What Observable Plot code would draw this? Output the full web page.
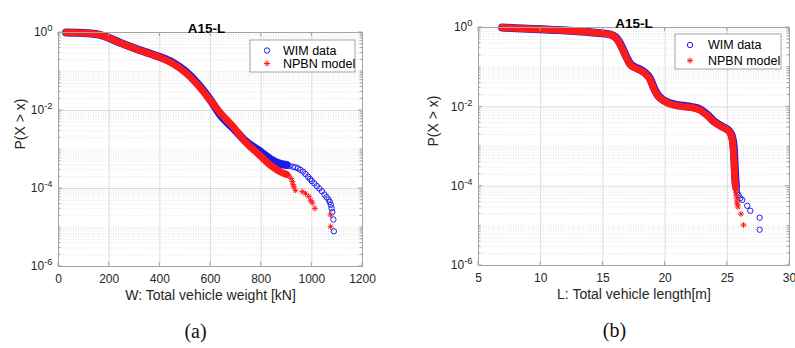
<!DOCTYPE html>
<html><head><meta charset="utf-8">
<script src="https://cdn.jsdelivr.net/npm/d3@7"></script>
<script src="https://cdn.jsdelivr.net/npm/@observablehq/plot@0.6"></script>
<style>
body{margin:0;background:#fff;}
#wrap{position:relative;width:795px;height:348px;overflow:hidden;}
#pa{position:absolute;left:0;top:0;}
#pb{position:absolute;left:400px;top:0;}
</style></head><body><div id="wrap"><div id="pa"></div><div id="pb"></div></div>
<script>
// ---------- shared ----------
const chartTitle = "A15-L";
const seriesNames = ["WIM data", "NPBN model"];
const yLabel = "P(X > x)";
const yTickValues = [1, 1e-2, 1e-4, 1e-6];
const yTickLabels = ["10^0", "10^-2", "10^-4", "10^-6"];

// ---------- panel (a): total vehicle weight ----------
const aXLabel = "W: Total vehicle weight [kN]";
const aCaption = "(a)";
const aXTicks = [0, 200, 400, 600, 800, 1000, 1200];
// WIM data (dense part + sparse tail)
const aWimBandW = [30, 70, 120, 160, 200, 250, 300, 350, 400, 450, 500, 550, 600, 640, 690, 740, 790, 840, 880, 900];
const aWimBandP = [1.0, 0.99, 0.955, 0.885, 0.725, 0.525, 0.395, 0.305, 0.235, 0.17, 0.102, 0.048, 0.0185, 0.0075, 0.0035, 0.0016, 0.00095, 0.00055, 0.00042, 0.0004];
const aWimTailW = [912, 925, 935, 945, 955, 965, 975, 985, 993, 1000, 1010, 1020, 1030, 1040, 1050, 1058, 1066, 1071, 1075, 1078, 1081, 1085, 1087];
const aWimTailP = [3.8e-4, 3.6e-4, 3.5e-4, 3.3e-4, 3.0e-4, 2.7e-4, 2.35e-4, 2.0e-4, 1.75e-4, 1.55e-4, 1.35e-4, 1.15e-4, 1.0e-4, 8.5e-5, 7e-5, 6e-5, 5.2e-5, 4.5e-5, 3.8e-5, 3.1e-5, 2.5e-5, 1.6e-5, 8e-6];
// NPBN model
const aNpbnBandW = [30, 70, 120, 160, 200, 250, 300, 350, 400, 450, 500, 550, 600, 640, 690, 740, 790, 840, 880, 900];
const aNpbnBandP = [1.0, 0.99, 0.95, 0.88, 0.72, 0.52, 0.39, 0.30, 0.23, 0.16, 0.095, 0.045, 0.018, 0.0085, 0.0038, 0.0015, 0.00075, 0.00038, 0.00026, 0.00023];
const aNpbnTailW = [910, 918, 923, 926, 929, 935, 962, 975, 988, 995, 1002, 1012, 1074, 1074];
const aNpbnTailP = [2.1e-4, 1.8e-4, 1.5e-4, 1.25e-4, 1.1e-4, 9e-5, 8.3e-5, 7.4e-5, 6.3e-5, 5e-5, 4.3e-5, 3.1e-5, 2.1e-5, 1.05e-5];

// ---------- panel (b): total vehicle length ----------
const bXLabel = "L: Total vehicle length[m]";
const bCaption = "(b)";
const bXTicks = [5, 10, 15, 20, 25, 30];
const bWimBandL = [6.9, 8, 9, 10, 11, 12, 13, 14, 15, 15.6, 16.0, 16.3, 16.6, 16.9, 17.2, 17.6, 18.0, 18.4, 18.8, 19.1, 19.4, 19.7, 20.2, 20.7, 21.5, 22.1, 22.8, 23.4, 23.9, 24.5, 25.0, 25.3, 25.5, 25.6, 25.65, 25.7];
const bWimBandP = [1.0, 0.96, 0.93, 0.9, 0.87, 0.84, 0.8, 0.76, 0.71, 0.665, 0.575, 0.44, 0.285, 0.178, 0.12, 0.099, 0.087, 0.072, 0.051, 0.03, 0.02, 0.016, 0.013, 0.0116, 0.0106, 0.01, 0.0087, 0.0063, 0.0044, 0.0033, 0.0027, 0.0021, 0.0011, 0.0003, 0.00015, 0.0001];
const bWimTailL = [25.72, 25.75, 25.8, 25.9, 26.05, 26.2, 26.6, 26.85, 27.6, 27.6];
const bWimTailP = [9e-5, 8e-5, 7e-5, 6e-5, 5e-5, 4.5e-5, 3.2e-5, 2.4e-5, 1.6e-5, 8e-6];
const bNpbnBandL = [6.9, 8, 9, 10, 11, 12, 13, 14, 15, 15.6, 16.0, 16.3, 16.6, 16.9, 17.2, 17.6, 18.0, 18.4, 18.8, 19.1, 19.4, 19.7, 20.2, 20.7, 21.5, 22.1, 22.8, 23.4, 23.9, 24.5, 25.0, 25.3, 25.45, 25.55, 25.6, 25.68];
const bNpbnBandP = [1.0, 0.96, 0.93, 0.9, 0.87, 0.84, 0.8, 0.76, 0.71, 0.66, 0.56, 0.42, 0.27, 0.17, 0.115, 0.095, 0.083, 0.068, 0.048, 0.028, 0.019, 0.0155, 0.0125, 0.011, 0.0101, 0.0096, 0.0083, 0.006, 0.0042, 0.0032, 0.0026, 0.002, 0.0011, 0.0004, 0.00017, 0.00009];
const bNpbnTailL = [25.7, 25.72, 25.75, 25.78, 25.82, 25.85, 26.1, 26.3];
const bNpbnTailP = [7e-5, 6e-5, 5e-5, 4e-5, 3.5e-5, 3e-5, 2e-5, 1.05e-5];

// ---------- helpers ----------
const rows = (xs, ps) => xs.map((x, i) => ({x, p: ps[i]}));
const matlabStar = {
  draw(ctx, size) {
    const r = Math.sqrt(size / Math.PI), d = r * Math.SQRT1_2;
    ctx.moveTo(-r, 0); ctx.lineTo(r, 0);
    ctx.moveTo(0, -r); ctx.lineTo(0, r);
    ctx.moveTo(-d, -d); ctx.lineTo(d, d);
    ctx.moveTo(-d, d); ctx.lineTo(d, -d);
  }
};
const minorY = [];
for (let e = -6; e <= -1; e++) for (let k = 1; k <= 9; k++) {
  const v = k * Math.pow(10, e);
  if (k === 1 && e % 2 === 0) continue;
  minorY.push(v);
}
const BOX = "#a3a3a3", GRID = "#dcdcdc", MINOR = "#e3e3e3", TXT = "#262626";
const SANS = "Liberation Sans, Arial, Helvetica, sans-serif";

function panel(cfg) {
  const svg = Plot.plot({
    width: cfg.width, height: 348,
    marginLeft: cfg.ml, marginRight: cfg.mr, marginTop: cfg.mt, marginBottom: cfg.mb,
    style: {fontFamily: SANS, fontSize: "12px", color: TXT, background: "transparent", overflow: "visible"},
    x: {domain: cfg.xDomain},
    y: {type: "log", domain: [1e-6, 1]},
    marks: [
      Plot.ruleY(minorY, {stroke: MINOR, strokeDasharray: "1,1.5"}),
      Plot.ruleX(cfg.xTicks, {stroke: GRID}),
      Plot.ruleY(yTickValues, {stroke: GRID}),
      Plot.line(cfg.wimBand, {x: "x", y: "p", stroke: "#1a1ae6", strokeWidth: 8, curve: "monotone-x", strokeLinecap: "round", strokeLinejoin: "round"}),
      Plot.dot(cfg.wimTail, {x: "x", y: "p", r: 2.7, stroke: "#2020f0", strokeWidth: 1, fill: "none"}),
      Plot.line(cfg.npbnBand, {x: "x", y: "p", stroke: "#ff1a1a", strokeWidth: 7, curve: "monotone-x", strokeLinecap: "round", strokeLinejoin: "round"}),
      Plot.dot(cfg.npbnTail, {x: "x", y: "p", r: 3, symbol: matlabStar, stroke: "#ff1a1a", strokeWidth: 1, fill: "none"}),
      Plot.frame({stroke: BOX}),
      Plot.axisX(cfg.xTicks, {tickSize: 0, tickPadding: 8, label: null, fontSize: 12, tickFormat: d => String(d)}),
      Plot.axisY(yTickValues, {tickSize: 0, tickPadding: 6, label: null, fontSize: 12,
        tickFormat: v => yTickLabels[yTickValues.indexOf(v)]}),
      Plot.text([chartTitle], {text: d => d, frameAnchor: "top", dy: cfg.titleDy, dx: cfg.titleDx, fontWeight: "bold", fontSize: 13.5, fill: "#000"}),
      Plot.text([cfg.xLabel], {text: d => d, frameAnchor: "bottom", dy: 33, fontSize: 14, fill: TXT}),
      Plot.text([yLabel], {text: d => d, frameAnchor: "left", rotate: -90, dx: cfg.yLabelDx, fontSize: 14, fill: TXT}),
      Plot.text([cfg.caption], {text: d => d, frameAnchor: "bottom", dy: 71, dx: cfg.capDx, fontSize: 20, fontFamily: "Liberation Serif, Times New Roman, serif", fill: "#111"})
    ]
  });
  const s = d3.select(svg);
  // superscript exponents on the log tick labels
  s.selectAll('g[aria-label="y-axis tick label"] text').each(function () {
    const t = this.textContent.split("^");
    const el = d3.select(this);
    el.text(t[0]);
    el.append("tspan").attr("dy", "-0.55em").attr("font-size", "0.78em").text(t[1]);
  });
  // inward tick marks (MATLAB style) placed with the plot's own scales
  const xs = svg.scale("x"), ys = svg.scale("y");
  const top = cfg.mt, bottom = 348 - cfg.mb, left = cfg.ml, right = cfg.width - cfg.mr;
  const tg = s.append("g").attr("stroke", BOX).attr("stroke-width", 1);
  cfg.xTicks.forEach(v => {
    const x = xs.apply(v);
    tg.append("line").attr("x1", x).attr("x2", x).attr("y1", bottom).attr("y2", bottom - 4);
    tg.append("line").attr("x1", x).attr("x2", x).attr("y1", top).attr("y2", top + 4);
  });
  yTickValues.forEach(v => {
    const y = ys.apply(v);
    tg.append("line").attr("x1", left).attr("x2", left + 4).attr("y1", y).attr("y2", y);
    tg.append("line").attr("x1", right).attr("x2", right - 4).attr("y1", y).attr("y2", y);
  });
  minorY.forEach(v => {
    const y = ys.apply(v);
    tg.append("line").attr("x1", left).attr("x2", left + 2.5).attr("y1", y).attr("y2", y);
    tg.append("line").attr("x1", right).attr("x2", right - 2.5).attr("y1", y).attr("y2", y);
  });
  // legend box
  const L = cfg.legend;
  const lg = s.append("g");
  lg.append("rect").attr("x", L.x).attr("y", L.y).attr("width", L.w).attr("height", L.h)
    .attr("fill", "#fff").attr("stroke", BOX);
  lg.append("circle").attr("cx", L.mx).attr("cy", L.y1).attr("r", 2.7)
    .attr("fill", "none").attr("stroke", "#2020f0");
  lg.append("path").attr("transform", `translate(${L.mx},${L.y2})`)
    .attr("d", d3.symbol(matlabStar, 9 * Math.PI)()).attr("fill", "none").attr("stroke", "#ff1a1a");
  [seriesNames[0], seriesNames[1]].forEach((name, i) => {
    lg.append("text").attr("x", L.tx).attr("y", i ? L.y2 : L.y1).attr("dy", "0.35em")
      .attr("text-anchor", "start")
      .attr("font-size", 12.5).attr("fill", "#000").attr("font-family", SANS).text(name);
  });
  return svg;
}

document.getElementById("pa").appendChild(panel({
  width: 400, ml: 58, mr: 38, mt: 32, mb: 82,
  xDomain: [0, 1200], xTicks: aXTicks, xLabel: aXLabel, caption: aCaption,
  titleDy: -9.5, titleDx: -4, yLabelDx: -38, capDx: -15,
  wimBand: rows(aWimBandW, aWimBandP), wimTail: rows(aWimTailW, aWimTailP),
  npbnBand: rows(aNpbnBandW, aNpbnBandP), npbnTail: rows(aNpbnTailW, aNpbnTailP),
  legend: {x: 250, y: 40, w: 105, h: 32, mx: 267, tx: 283, y1: 50.5, y2: 63.5}
}));
document.getElementById("pb").appendChild(panel({
  width: 395, ml: 78, mr: 6, mt: 27, mb: 83,
  xDomain: [5, 30], xTicks: bXTicks, xLabel: bXLabel, caption: bCaption,
  titleDy: -9, titleDx: 0, yLabelDx: -45, capDx: -19.5,
  wimBand: rows(bWimBandL, bWimBandP), wimTail: rows(bWimTailL, bWimTailP),
  npbnBand: rows(bNpbnBandL, bNpbnBandP), npbnTail: rows(bNpbnTailL, bNpbnTailP),
  legend: {x: 275, y: 34, w: 106, h: 35, mx: 290, tx: 308, y1: 45, y2: 60.5}
}));
</script></body></html>
